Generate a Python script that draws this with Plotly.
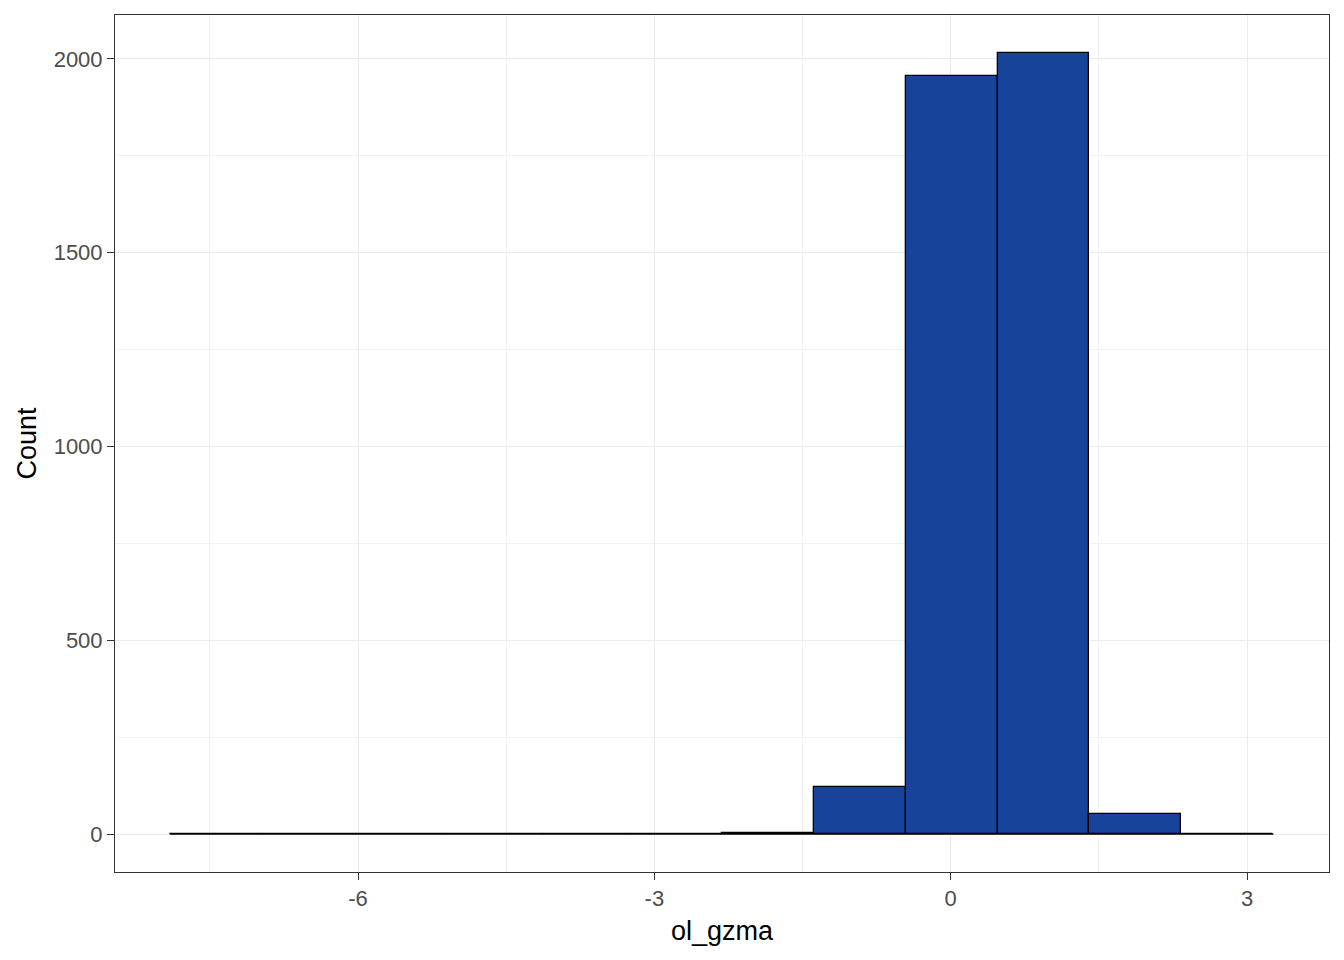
import numpy as np
import plotly.graph_objects as go

# Histogram bins (12 bins, width ~0.931)
bin_start = -7.905
bin_width = 0.931
counts = [1, 0, 0, 0, 0, 1, 3, 121, 1956, 2015, 52, 1]

x_title = "ol_gzma"
y_title = "Count"
x_ticks = [-6, -3, 0, 3]
y_ticks = [0, 500, 1000, 1500, 2000]

edges = [bin_start + i * bin_width for i in range(len(counts) + 1)]
centers = [(edges[i] + edges[i + 1]) / 2 for i in range(len(counts))]

fig = go.Figure()
# baseline for zero-height bins (ggplot draws their outline)
fig.add_trace(go.Scatter(x=[edges[0], edges[-1]], y=[0, 0], mode="lines",
                         line=dict(color="black", width=1.3), hoverinfo="skip",
                         showlegend=False))
fig.add_trace(go.Bar(x=centers, y=counts, width=bin_width,
                     marker=dict(color="#17439b", line=dict(color="black", width=1.3)),
                     showlegend=False))

axis_common = dict(
    showline=True, linecolor="#333333", linewidth=1, mirror=True,
    showgrid=True, gridcolor="#EBEBEB", gridwidth=1.1,
    zeroline=False, ticks="outside", ticklen=7, tickcolor="#333333", tickwidth=1.1,
    tickfont=dict(family="Liberation Sans, Arial", size=22, color="#4D4D4D"),
    minor=dict(showgrid=True, gridcolor="#F2F2F2", gridwidth=0.6, ticks=""),
)

fig.update_layout(
    width=1336, height=952,
    margin=dict(l=107, r=15, t=7, b=88),
    paper_bgcolor="white", plot_bgcolor="white",
    bargap=0,
    font=dict(family="Liberation Sans, Arial", color="black"),
    xaxis=dict(range=[-8.46, 3.83], tickvals=x_ticks, ticktext=[str(v) for v in x_ticks],
               title=dict(text=x_title, font=dict(size=27, color="black"), standoff=10),
               **axis_common),
    yaxis=dict(range=[-98, 2113], tickvals=y_ticks, ticktext=[str(v) for v in y_ticks],
               title=dict(text=y_title, font=dict(size=27, color="black"), standoff=9),
               **axis_common),
)
fig.update_xaxes(minor=dict(tickvals=[-7.5, -4.5, -1.5, 1.5]))
fig.update_yaxes(minor=dict(tickvals=[250, 750, 1250, 1750]))

fig.write_html("out.html")
